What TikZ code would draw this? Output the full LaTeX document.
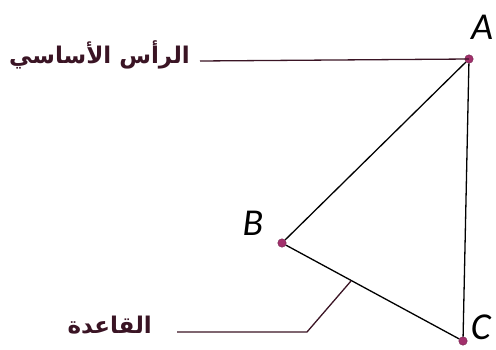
\documentclass[tikz,border=0pt]{standalone}
\usepackage{fontspec}
\newfontfamily\arabicfont[Script=Arabic]{DejaVu Sans}
\newfontfamily\letterfont{Carlito}
\TeXXeTstate=1
\definecolor{maroon}{HTML}{3A1424}
\definecolor{dotc}{HTML}{A2306C}
\begin{document}
\begin{tikzpicture}[x=1pt,y=1pt,
  vtx/.style={circle,fill=dotc,draw=dotc!70!black,inner sep=0pt,minimum size=8.5pt},
  lbl/.style={font=\letterfont\itshape\fontsize{38}{40}\selectfont,inner sep=0pt},
  artext/.style={font=\arabicfont\bfseries\fontsize{23}{26}\selectfont,text=maroon,inner sep=0pt},
  side/.style={line width=1.3pt,black},
  lead/.style={line width=1.3pt,maroon}]
\useasboundingbox (0,0) rectangle (496,349);
\node[vtx] (A) at (469,290) {};
\node[vtx] (B) at (282,106) {};
\node[vtx] (C) at (463,8) {};
\node[lbl] (LA) at (482,322) {A};
\node[lbl] (LB) at (253,126) {B};
\node[lbl,anchor=east] (LC) at (491,22) {C};
\draw[side] (A) -- (B) -- (C) -- (A);
\node[artext,anchor=east] (T1) at (190,294) {\beginR الرأس الأساسي\endR};
\coordinate (T1e) at (200,288);
\draw[lead] (T1e) -- (A.center);
\node[artext,anchor=east] (T2) at (152,24) {\beginR القاعدة\endR};
\coordinate (T2e) at (177,17);
\coordinate (K) at (307,17);
\coordinate (M) at (351,68);
\draw[lead] (T2e) -- (K) -- (M);
\end{tikzpicture}
\end{document}
